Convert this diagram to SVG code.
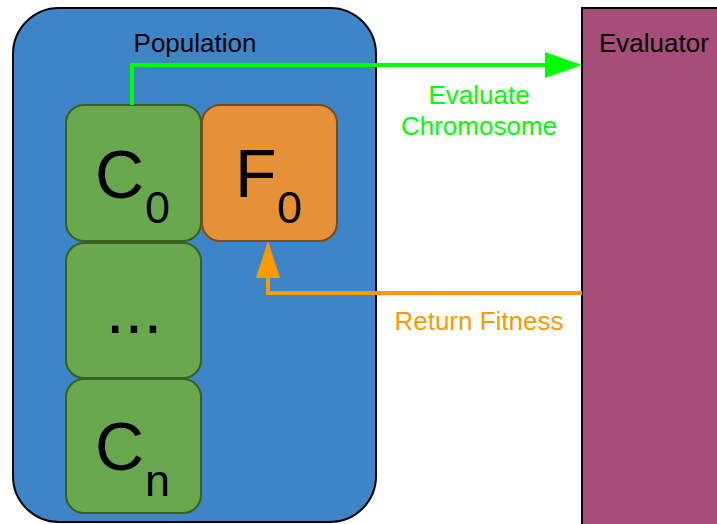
<svg xmlns="http://www.w3.org/2000/svg" width="717" height="524" viewBox="0 0 717 524">
<defs>
<style>
text{font-family:"Liberation Sans",Arial,sans-serif}
.cell{fill:#6aa84f;stroke:#38601f;stroke-width:2}
.fit{fill:#e69138;stroke:#7f4a10;stroke-width:2}
.big{font-size:68px;fill:#000}
.sub{font-size:45px;fill:#000}
.lbl{font-size:26px}
</style>
</defs>
<rect width="717" height="524" fill="#fff"/>
<g id="population">
<rect x="13" y="8" width="363" height="514" rx="46" fill="#3d85c6" stroke="#000" stroke-width="2"/>
<text class="lbl" x="195" y="52" text-anchor="middle" fill="#000">Population</text>
</g>
<g id="evaluator">
<rect x="582" y="8" width="140" height="520" fill="#a64d79" stroke="#000" stroke-width="2"/>
<text class="lbl" x="599" y="52" fill="#000">Evaluator</text>
</g>
<g id="c0">
<rect class="cell" x="66" y="105" width="135" height="136" rx="18"/>
<text class="big" x="95" y="198">C</text><text class="sub" x="145" y="223">0</text>
</g>
<g id="f0">
<rect class="fit" x="202" y="105" width="135" height="136" rx="18"/>
<text class="big" x="235" y="197">F</text><text class="sub" x="277" y="223">0</text>
</g>
<g id="dots">
<rect class="cell" x="66" y="243" width="135" height="135" rx="18"/>
<text x="134" y="333" font-size="68" text-anchor="middle" fill="#000">...</text>
</g>
<g id="cn">
<rect class="cell" x="66" y="379" width="135" height="134" rx="18"/>
<text class="big" x="95" y="470">C</text><text class="sub" x="145" y="496">n</text>
</g>
<g id="connectors">
<polyline points="132,105 132,65 548,65" fill="none" stroke="#00ff00" stroke-width="4"/>
<polygon points="545,52 582,65 545,78" fill="#00ff00"/>
<polyline points="582,293 268,293 268,275" fill="none" stroke="#ff9900" stroke-width="4"/>
<polygon points="256,278 268,241 280,278" fill="#ff9900"/>
<text class="lbl" x="479" y="104" text-anchor="middle" fill="#00ff00">Evaluate</text>
<text class="lbl" x="479" y="135" text-anchor="middle" fill="#00ff00">Chromosome</text>
<text class="lbl" x="479" y="330" text-anchor="middle" fill="#ff9900">Return Fitness</text>
</g>
</svg>
